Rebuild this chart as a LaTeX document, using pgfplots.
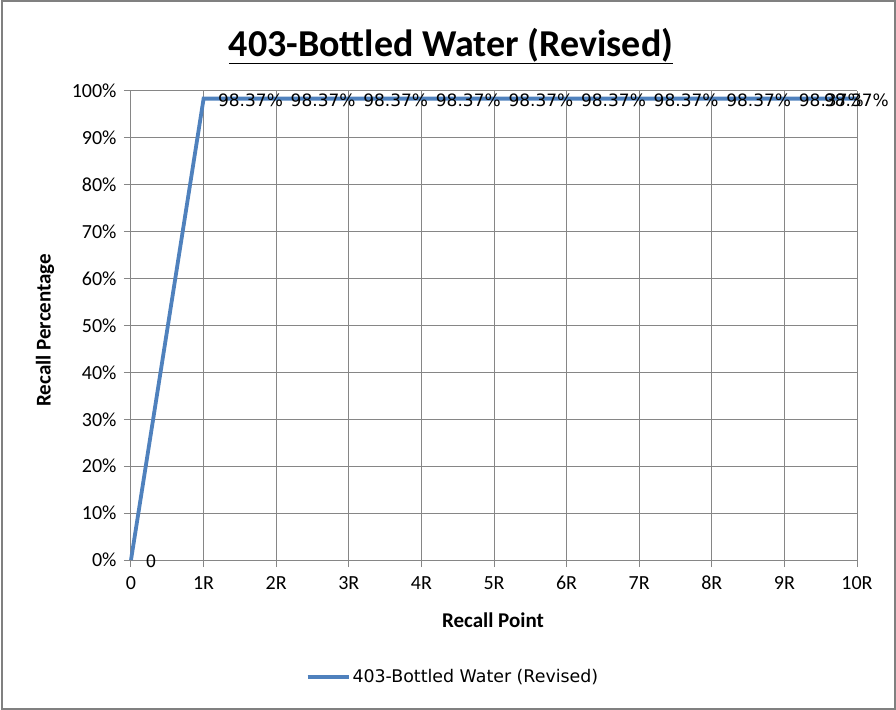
\documentclass[border=0pt]{standalone}
\usepackage{pgfplots}
\pgfplotsset{compat=1.18}
\usepackage{fontspec}
\setmainfont{Carlito}
\newfontfamily\labelfont{DejaVu Sans}
\definecolor{xlblue}{HTML}{4F81BD}
\definecolor{xlgrid}{HTML}{868686}
\definecolor{xlframe}{HTML}{808080}

\begin{document}
\begin{tikzpicture}
\useasboundingbox (-131bp,-150bp) rectangle (765bp,560bp);
\draw[xlframe, line width=2bp] (-129bp,-149bp) rectangle (764bp,559bp);
\begin{axis}[
	scale only axis,
	width=726bp, height=469bp,
	xmin=0, xmax=10, ymin=0, ymax=100,
	xtick={0,1,...,10},
	xticklabels={0,1R,2R,3R,4R,5R,6R,7R,8R,9R,10R},
	ytick={0,10,...,100},
	yticklabel={\pgfmathprintnumber{\tick}\%},
	/pgf/number format/assume math mode=true,
	axis lines*=left,
	axis line style={xlgrid, line width=1bp},
	grid=major,
	grid style={xlgrid, line width=1bp},
	tick style={xlgrid, line width=1bp},
	tick align=outside,
	major tick length=7bp,
	ticklabel style={font=\fontsize{20bp}{22bp}\selectfont},
	xticklabel style={yshift=-5bp, text height=13.5bp, text depth=0bp},
	yticklabel style={xshift=-4bp},
	xlabel={Recall Point},
	ylabel={Recall Percentage},
	label style={font=\bfseries\fontsize{21bp}{24bp}\selectfont},
	xlabel style={at={(axis description cs:0.4986,-0.128)}, anchor=center},
	ylabel style={at={(axis description cs:-0.1185,0.49)}, anchor=center},
	clip=false,
	legend style={at={(axis description cs:0.4435,-0.2495)}, anchor=center,
		draw=none, font=\labelfont\fontsize{17.4bp}{20bp}\selectfont},
	legend image code/.code={\draw[#1] (0bp,0bp) -- (41bp,0bp);},
	nodes near coords style={anchor=west, yshift=-1.5bp, text=black,
		font=\labelfont\fontsize{17bp}{20bp}\selectfont},
]
	\addplot[color=xlblue, line width=3.8bp]
		coordinates {
			(0,0)(1,98.37)(2,98.37)(3,98.37)(4,98.37)(5,98.37)(6,98.37)(7,98.37)(8,98.37)(9,98.37)(10,98.37)
		};
	\addlegendentry{403-Bottled Water (Revised)}
	% data labels
	\addplot[draw=none, forget plot, point meta=y,
		nodes near coords={\pgfmathprintnumber[fixed,fixed zerofill,precision=2]{\pgfplotspointmeta}\%},
		every node near coord/.append style={xshift=11bp}]
		coordinates {
			(1,98.37)(2,98.37)(3,98.37)(4,98.37)(5,98.37)(6,98.37)(7,98.37)(8,98.37)(9,98.37)
		};
	\addplot[draw=none, forget plot, point meta=y,
		nodes near coords={\pgfmathprintnumber[fixed,fixed zerofill,precision=2]{\pgfplotspointmeta}\%},
		every node near coord/.append style={xshift=-36.5bp}]
		coordinates {(10,98.37)};
	\addplot[draw=none, forget plot, point meta=y,
		nodes near coords={\pgfmathprintnumber{\pgfplotspointmeta}},
		every node near coord/.append style={xshift=11bp}]
		coordinates {(0,0)};
\end{axis}
\node[font=\bfseries\fontsize{38bp}{42bp}\selectfont] at (320bp,514bp) {\underline{403-Bottled Water (Revised)}};
\end{tikzpicture}
\end{document}
